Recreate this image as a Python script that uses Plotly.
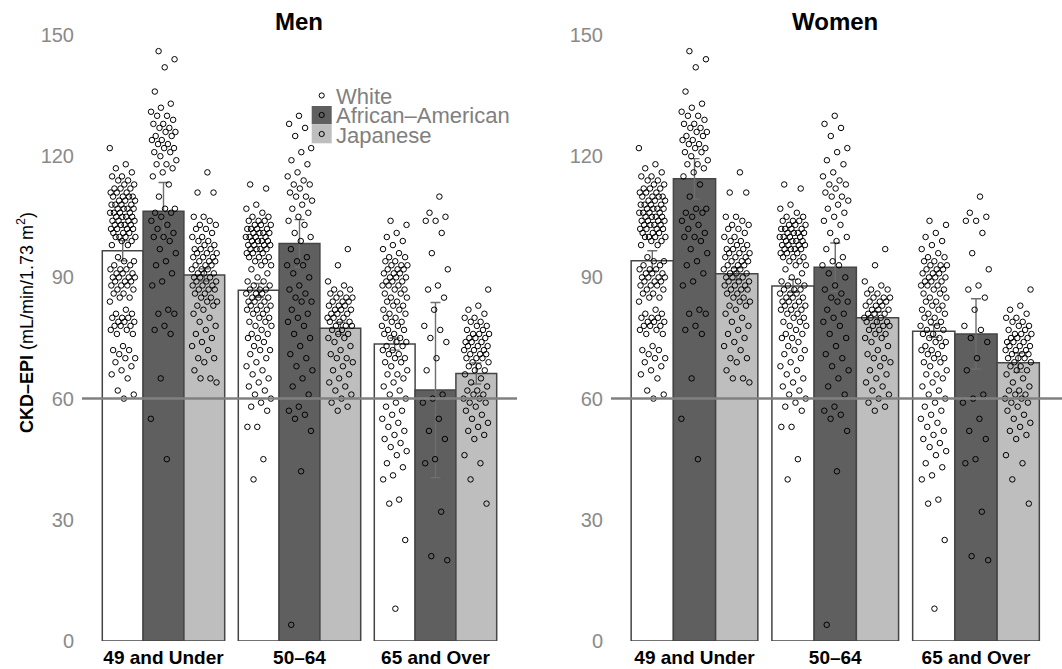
import plotly.graph_objects as go

# ---------------- data ----------------
age_groups = ["49 and Under", "50–64", "65 and Over"]
ethnicities = ["White", "African–American", "Japanese"]
eth_colors = ["#ffffff", "#5f5f5f", "#bebebe"]

men_white_mean = [96.6, 86.8, 73.5]
men_aa_mean = [106.4, 98.4, 62.1]
men_jp_mean = [90.6, 77.4, 66.2]
men_white_err = [2.5, 1.7, 1.5]
men_aa_err = [7.1, 5.9, 21.7]
men_jp_err = [1.5, 1.5, 2.6]

women_white_mean = [94.1, 87.9, 76.7]
women_aa_mean = [114.4, 92.5, 76.0]
women_jp_mean = [90.9, 80.0, 68.9]
women_white_err = [2.5, 1.6, 1.5]
women_aa_err = [5.0, 6.0, 8.7]
women_jp_err = [1.5, 1.5, 2.4]

# individual CKD-EPI values (shown in both panels)
white_49 = [122, 118, 117, 116, 115, 115, 114, 114, 113, 113, 112, 112, 112, 111, 111, 111,
            110, 110, 110, 110, 109, 109, 109, 108, 108, 108, 108, 107, 107, 107, 107, 106,
            106, 106, 106, 105, 105, 105, 105, 104, 104, 104, 104, 103, 103, 103, 103, 102,
            102, 102, 102, 101, 101, 101, 100, 100, 100, 100, 99, 99, 98, 98,
            95, 94, 94, 93, 93, 92, 92, 92, 91, 91, 91, 90, 90, 90, 90, 89, 89, 89, 88, 88,
            88, 87, 87, 86, 86, 85, 85,
            84, 82, 81, 81, 80, 80, 80, 79, 79, 79, 78, 78, 78, 77, 77, 76, 76,
            73, 72, 72, 71, 70, 70, 69, 68, 67, 66, 65, 62, 61, 60]
aa_49 = [146, 144, 142, 136, 133, 132, 131, 130, 130, 129, 128, 128, 127, 127, 126, 126,
         125, 125, 124, 124, 123, 123, 122, 122, 121, 121, 120, 119, 118, 118, 117, 116,
         115, 113, 110, 107, 107, 106, 106, 105, 104, 103, 102, 101, 100, 100, 99, 97, 96,
         94, 93, 91, 89, 88, 82, 81, 81, 78, 77, 76, 65, 55, 45]
jp_49 = [116, 111, 111, 105, 105, 104, 103, 103, 102, 102, 101, 100, 100, 99, 99, 98, 98,
         97, 97, 97, 96, 96, 96, 95, 95, 95, 94, 94, 94, 93, 93, 93, 92, 92, 92, 91, 91, 91,
         90, 90, 90, 89, 89, 89, 88, 88, 88, 87, 87, 87, 86, 86, 85, 85, 84, 84, 83, 83, 82,
         81, 80, 79, 78, 77, 76, 75, 74, 73, 72, 70, 70, 69, 67, 65, 65, 64]
white_50_64 = [113, 112, 108, 107, 106, 105, 105, 104, 104, 104, 103, 103, 103, 102, 102,
               102, 102, 101, 101, 101, 101, 100, 100, 100, 100, 99, 99, 99, 99, 98, 98, 98,
               98, 97, 97, 97, 97, 96, 96, 96, 95, 95, 95, 94, 94, 93, 93, 92, 91, 90, 89,
               89, 88, 88, 87, 87, 87, 86, 86, 86, 85, 85, 85, 84, 84, 84, 83, 83, 83, 82,
               82, 82, 81, 81, 80, 80, 79, 79, 78, 78, 77, 76, 76, 75, 75, 74, 73, 72, 72,
               71, 70, 69, 68, 67, 66, 65, 64, 63, 62, 61, 60, 59, 58, 57, 53, 53, 45, 40]
aa_50_64 = [130, 128, 127, 125, 122, 121, 119, 118, 116, 115, 114, 113, 113, 112, 111, 110,
            110, 109, 108, 107, 106, 105, 104, 103, 101, 100, 99, 97, 95, 94, 93, 93, 91,
            90, 88, 87, 86, 85, 84, 84, 82, 81, 80, 79, 78, 76, 75, 73, 71, 70, 68, 67, 65,
            63, 61, 58, 57, 56, 55, 52, 42, 4]
jp_50_64 = [97, 93, 89, 88, 87, 87, 86, 86, 85, 85, 85, 84, 84, 84, 83, 83, 83, 82, 82, 82,
            81, 81, 81, 80, 80, 80, 79, 79, 79, 78, 78, 78, 77, 77, 76, 76, 75, 75, 74, 73,
            72, 71, 70, 70, 69, 68, 67, 66, 65, 64, 63, 62, 61, 60, 59, 58, 57]
white_65 = [104, 103, 101, 100, 99, 98, 97, 96, 95, 95, 94, 94, 93, 93, 93, 92, 92, 92, 91,
            91, 91, 90, 90, 90, 89, 89, 89, 88, 88, 88, 87, 87, 86, 86, 85, 85, 84, 84, 83,
            83, 82, 82, 81, 81, 80, 80, 79, 79, 78, 78, 77, 77, 76, 76, 75, 75, 74, 74, 73,
            73, 72, 72, 71, 71, 70, 70, 69, 69, 68, 67, 66, 66, 65, 64, 63, 62, 61, 60, 59,
            58, 57, 56, 55, 54, 53, 52, 51, 50, 49, 48, 47, 46, 44, 43, 41, 40, 35, 34, 25, 8]
aa_65 = [110, 106, 105, 104, 104, 101, 96, 92, 88, 87, 85, 82, 78, 77, 75, 74, 70, 67, 61,
         60, 59, 55, 52, 50, 45, 44, 32, 21, 20]
jp_65 = [87, 83, 82, 81, 80, 80, 79, 79, 78, 78, 77, 77, 76, 76, 76, 75, 75, 75, 74, 74, 74,
         73, 73, 73, 72, 72, 72, 71, 71, 71, 70, 70, 70, 69, 69, 68, 68, 67, 67, 66, 65, 64,
         63, 62, 62, 61, 61, 60, 60, 59, 59, 58, 57, 56, 55, 54, 53, 52, 51, 50, 46, 44, 40, 34]

points = {
    "White": [white_49, white_50_64, white_65],
    "African–American": [aa_49, aa_50_64, aa_65],
    "Japanese": [jp_49, jp_50_64, jp_65],
}

# ---------------- layout helpers ----------------
W, H = 1062, 669
BW = 0.3
offsets = [-BW, 0.0, BW]
FONT = "Liberation Sans, Arial, Helvetica, sans-serif"


def px_x(p):
    """page pixel -> paper x"""
    return p / W


def px_y(p):
    """page pixel -> paper y"""
    return 1 - p / H


panels = [
    ("x", "y", [men_white_mean, men_aa_mean, men_jp_mean], [men_white_err, men_aa_err, men_jp_err]),
    ("x2", "y2", [women_white_mean, women_aa_mean, women_jp_mean], [women_white_err, women_aa_err, women_jp_err]),
]

fig = go.Figure()

for xa, ya, means, errs in panels:
    for k, eth in enumerate(ethnicities):
        fig.add_trace(go.Bar(
            x=[g + offsets[k] for g in range(3)], y=means[k], width=BW,
            xaxis=xa, yaxis=ya, name=eth, showlegend=False,
            marker=dict(color=eth_colors[k], line=dict(color="#454545", width=1.5)),
            error_y=dict(type="data", array=errs[k], color="#6e6e6e", thickness=1.4, width=5),
        ))
    for k, eth in enumerate(ethnicities):
        for g in range(3):
            vals = points[eth][g]
            n = len(vals)
            jit = [((i * 0.6180339887 + 0.31 * k + 0.17 * g) % 1 - 0.5) * 0.19 for i in range(n)]
            fig.add_trace(go.Scatter(
                x=[g + offsets[k] + j for j in jit], y=vals, mode="markers",
                xaxis=xa, yaxis=ya, showlegend=False, hoverinfo="y",
                marker=dict(symbol="circle-open", size=5.5, color="black",
                            line=dict(width=1, color="black")),
                cliponaxis=False,
            ))

PX_PER_UNIT_Y = 4.04
Y0_PAGE = 641
ydom = [px_y(Y0_PAGE), px_y(Y0_PAGE - 155 * PX_PER_UNIT_Y)]
axis_y = dict(range=[0, 155], tickvals=[0, 30, 60, 90, 120, 150], showgrid=False,
              zeroline=False, showline=False, ticks="", automargin=False,
              tickfont=dict(family=FONT, size=20, color="#8a8a8a"), ticklabelstandoff=7,
              domain=ydom)
axis_x = dict(tickvals=[0, 1, 2],
              ticktext=["<b>" + a + "</b>" for a in age_groups],
              showgrid=False, zeroline=False, showline=False, ticks="", automargin=False,
              tickfont=dict(family=FONT, size=19, color="black"), ticklabelstandoff=3)

# men: group-1 centre at page x 163.5, 136 px per unit; women: 694.5, 140.75 px per unit
men_dom = (82, 517)
women_dom = (611, 1062)
men_rng = [(men_dom[0] - 163.5) / 136, (men_dom[1] - 163.5) / 136]
women_rng = [(women_dom[0] - 694.5) / 140.75, (women_dom[1] - 694.5) / 140.75]

fig.update_layout(
    width=W, height=H, margin=dict(l=0, r=0, t=0, b=0, pad=0), autosize=False,
    plot_bgcolor="white", paper_bgcolor="white", barmode="overlay",
    font=dict(family=FONT),
    xaxis=dict(axis_x, domain=[px_x(men_dom[0]), px_x(men_dom[1])], range=men_rng),
    xaxis2=dict(axis_x, domain=[px_x(women_dom[0]), 1.0], range=women_rng, anchor="y2"),
    yaxis=dict(axis_y, anchor="x"),
    yaxis2=dict(axis_y, anchor="x2"),
    showlegend=False,
)

# reference line at 60
for xr, yr in [("x domain", "y"), ("x2 domain", "y2")]:
    fig.add_shape(type="line", xref=xr, yref=yr, x0=0, x1=1, y0=60, y1=60,
                  line=dict(color="#808080", width=2.5), layer="above")

# titles
fig.add_annotation(text="<b>Men</b>", xref="paper", yref="paper", x=px_x(299), y=px_y(22),
                   xanchor="center", yanchor="middle",
                   showarrow=False, font=dict(family=FONT, size=24, color="black"))
fig.add_annotation(text="<b>Women</b>", xref="paper", yref="paper", x=px_x(835), y=px_y(22),
                   xanchor="center", yanchor="middle",
                   showarrow=False, font=dict(family=FONT, size=24, color="black"))
fig.add_annotation(text="<b>CKD–EPI</b> (mL/min/1.73 m<sup>2</sup>)", xref="paper", yref="paper",
                   x=px_x(25), y=px_y(323), textangle=-90, showarrow=False,
                   xanchor="center", yanchor="middle",
                   font=dict(family=FONT, size=18, color="black"))

# manual legend
leg_rows = [95.5, 115, 134]
fig.add_shape(type="rect", xref="paper", yref="paper", x0=px_x(311.7), x1=px_x(331.7),
              y0=px_y(106), y1=px_y(124.3), fillcolor=eth_colors[1], line=dict(width=0))
fig.add_shape(type="rect", xref="paper", yref="paper", x0=px_x(311.7), x1=px_x(331.7),
              y0=px_y(124.3), y1=px_y(143.3), fillcolor=eth_colors[2], line=dict(width=0))
for k, ry in enumerate(leg_rows):
    fig.add_shape(type="circle", xref="paper", yref="paper",
                  x0=px_x(321.7 - 2.6), x1=px_x(321.7 + 2.6),
                  y0=px_y(ry + 2.6), y1=px_y(ry - 2.6),
                  line=dict(color="black", width=1), fillcolor="rgba(0,0,0,0)")
    fig.add_annotation(text=ethnicities[k], xref="paper", yref="paper", x=px_x(334), y=px_y(ry + 1),
                       xanchor="left", yanchor="middle", showarrow=False,
                       font=dict(family=FONT, size=22, color="#808080"))

# remove the default page margin so the 1062x669 figure fills the window exactly
fig.write_html("out.html",
               config={"displayModeBar": False},
               post_script="document.body.style.margin='0';"
                           "document.documentElement.style.overflow='hidden';")
